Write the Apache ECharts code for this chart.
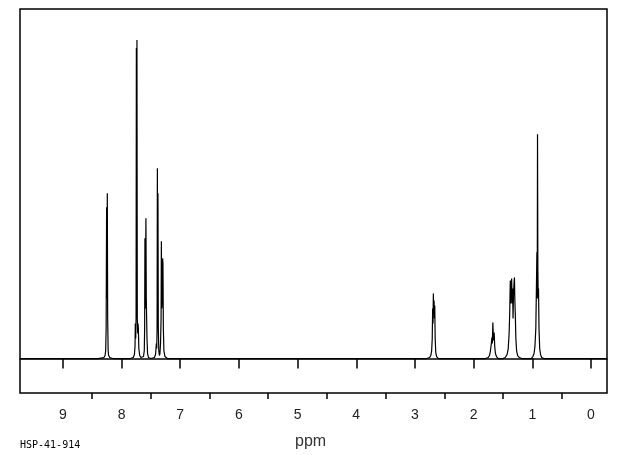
<!DOCTYPE html>
<html>
<head>
<meta charset="utf-8">
<script src="https://cdn.jsdelivr.net/npm/echarts@6/dist/echarts.min.js"></script>
<style>
html,body{margin:0;padding:0;background:#fff;}
#chart{width:620px;height:455px;}
</style>
</head>
<body>
<div id="chart"></div>
<script>
// Spectrum points: [chemical shift (ppm), intensity (relative height)]
var baselineStart = [[9.73, 0], [8.45, 0]];
var peaks824 = [[8.40, 0], [8.30, 1], [8.28, 3], [8.27, 8], [8.262, 30], [8.254, 151], [8.249, 60], [8.242, 165], [8.236, 40], [8.228, 8], [8.22, 3], [8.20, 1], [8.15, 0]];
var peaks773 = [[7.85, 0], [7.80, 1], [7.78, 4], [7.77, 12], [7.765, 35], [7.758, 20], [7.752, 40], [7.747, 310], [7.742, 60], [7.737, 318], [7.731, 40], [7.724, 25], [7.718, 35], [7.713, 30], [7.705, 10], [7.69, 3], [7.67, 1], [7.645, 0]];
var peaks758 = [[7.64, 0], [7.625, 2], [7.612, 8], [7.606, 30], [7.601, 120], [7.595, 50], [7.584, 140], [7.578, 60], [7.572, 61], [7.566, 20], [7.556, 5], [7.54, 1], [7.52, 0]];
var peaks735 = [[7.50, 0], [7.44, 1], [7.42, 4], [7.41, 12], [7.406, 15], [7.400, 10], [7.394, 30], [7.389, 190], [7.384, 80], [7.379, 165], [7.373, 30], [7.365, 8], [7.355, 3], [7.345, 5], [7.335, 15], [7.326, 40], [7.321, 117], [7.314, 50], [7.306, 60], [7.300, 100], [7.294, 95], [7.287, 30], [7.278, 8], [7.26, 2], [7.22, 0]];
var peaks267 = [[2.80, 0], [2.75, 1], [2.73, 3], [2.715, 8], [2.705, 20], [2.698, 50], [2.692, 35], [2.686, 65], [2.680, 45], [2.674, 58], [2.668, 40], [2.662, 53], [2.655, 20], [2.645, 6], [2.63, 2], [2.60, 0]];
var peaks167 = [[1.80, 0], [1.75, 1], [1.73, 3], [1.715, 7], [1.70, 14], [1.689, 21], [1.681, 15], [1.672, 36], [1.662, 18], [1.650, 26], [1.640, 12], [1.628, 5], [1.61, 2], [1.58, 0]];
var peaks133 = [[1.50, 0], [1.46, 1], [1.43, 4], [1.41, 10], [1.395, 25], [1.385, 45], [1.375, 78], [1.368, 55], [1.360, 72], [1.352, 80], [1.344, 55], [1.336, 70], [1.328, 40], [1.320, 65], [1.312, 75], [1.304, 81], [1.298, 60], [1.290, 45], [1.280, 20], [1.268, 8], [1.25, 3], [1.22, 1], [1.18, 0]];
var peaks091 = [[1.02, 0], [0.99, 2], [0.97, 5], [0.955, 12], [0.94, 30], [0.930, 70], [0.922, 106], [0.916, 60], [0.911, 224], [0.905, 90], [0.899, 60], [0.894, 70], [0.886, 30], [0.874, 10], [0.86, 4], [0.84, 1], [0.80, 0]];
var baselineEnd = [[-0.273, 0]];

var majorTicks = [0, 1, 2, 3, 4, 5, 6, 7, 8, 9];
var minorTicks = [0.5, 1.5, 2.5, 3.5, 4.5, 5.5, 6.5, 7.5, 8.5];
var xName = 'ppm';
var codeLabel = 'HSP-41-914';

var spectrum = [].concat(baselineStart, peaks824, peaks773, peaks758, peaks735, peaks267, peaks167, peaks133, peaks091, baselineEnd);

var chart = echarts.init(document.getElementById('chart'), null, {renderer: 'canvas'});
chart.setOption({
  animation: false,
  backgroundColor: '#fff',
  grid: {left: 20, right: 13, top: 9, bottom: 62, show: true, borderColor: '#000', borderWidth: 1.5, backgroundColor: 'transparent'},
  xAxis: [{
    type: 'value', inverse: true, min: -0.273, max: 9.73,
    splitLine: {show: false},
    axisLine: {show: true, lineStyle: {color: '#000', width: 1.5}},
    axisTick: {show: true, customValues: majorTicks, length: 10, lineStyle: {color: '#000', width: 1.5}},
    axisLabel: {show: true, customValues: majorTicks, margin: 15, color: '#222', fontSize: 14, fontFamily: 'Liberation Sans'}
  }, {
    type: 'value', inverse: true, min: -0.273, max: 9.73, position: 'bottom',
    splitLine: {show: false},
    axisLine: {show: false},
    axisTick: {show: true, customValues: minorTicks, length: 6, lineStyle: {color: '#000', width: 1.5}},
    axisLabel: {show: false}
  }],
  yAxis: {type: 'value', min: -34.4, max: 349, show: false, splitLine: {show: false}},
  series: [{
    type: 'line', data: spectrum, showSymbol: false, symbol: 'none', sampling: 'none',
    lineStyle: {color: '#000', width: 1.2}, silent: true, clip: true
  }],
  graphic: [
    {type: 'text', left: 295, top: 434, style: {text: xName, fontSize: 16, fontFamily: 'Liberation Sans', fill: '#333'}},
    {type: 'text', left: 20, top: 440, style: {text: codeLabel, fontSize: 10, fontFamily: 'DejaVu Sans Mono', fill: '#000'}}
  ]
});
</script>
</body>
</html>
